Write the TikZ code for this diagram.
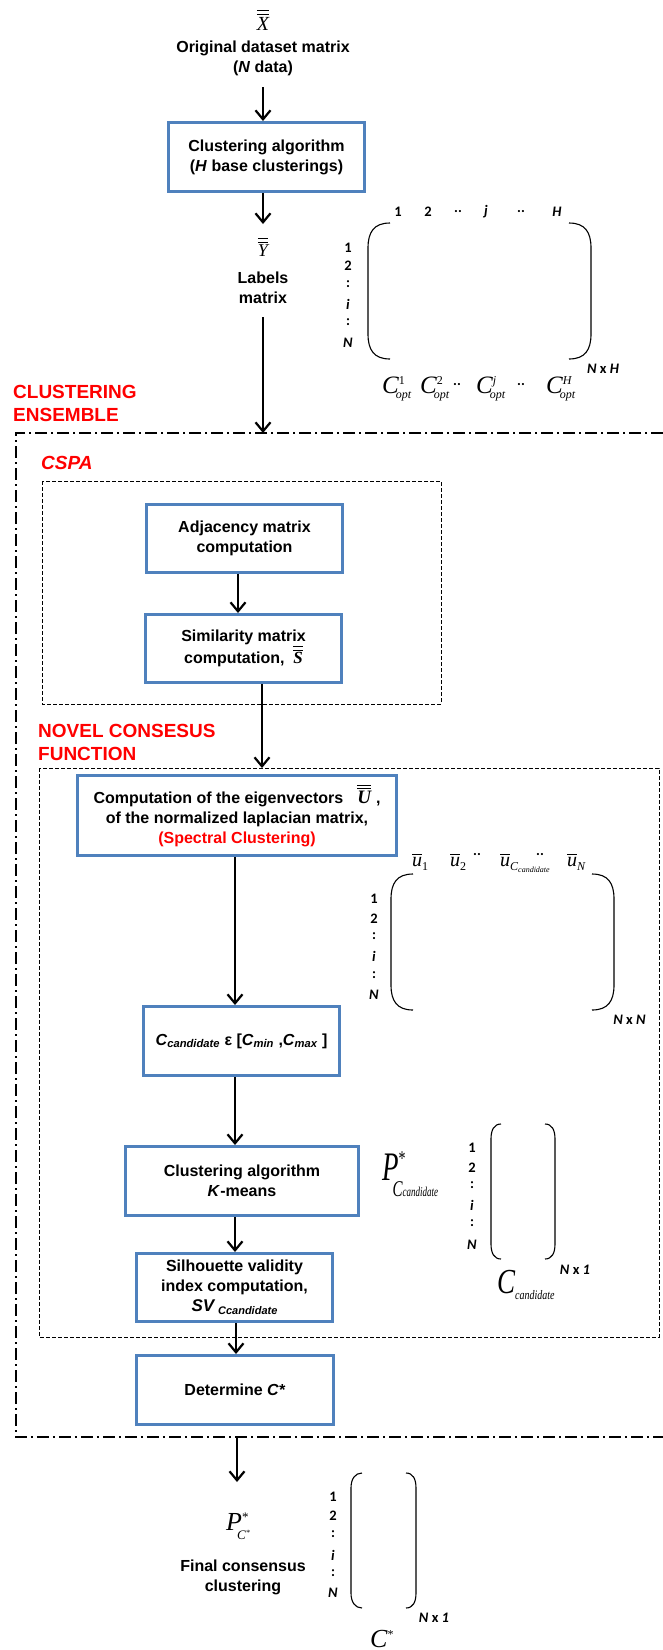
\documentclass[tikz,border=0pt]{standalone}
\usepackage{fontspec}
\usepackage{amsmath}
\usepackage{graphicx}
\setmainfont{Liberation Sans}
\newfontfamily\tnr{Liberation Serif}
\newfontfamily\calfont{Carlito}
\usetikzlibrary{arrows.meta}
\definecolor{boxblue}{RGB}{79,129,189}
\definecolor{lblred}{RGB}{255,0,0}
\newcommand\fs[1]{\fontsize{#1}{#1}\selectfont}
\newcommand\SupSub[4]{\rlap{\raisebox{#1}{#3}}\raisebox{#2}{#4}}
\newcommand\tv[1]{\text{\tnr\itshape #1}}
\newcommand\dbl[2]{{\fs{#1}$\overline{\overline{\tv{#2}}}$}}
\newcommand\ub[1]{{\fs{20}$\overline{\tv{u}}$}\raisebox{-4pt}{\tnr\fs{12}#1}}
\newcommand\Copt[1]{{\tnr\itshape\fs{25}C}\SupSub{9pt}{-5pt}{\tnr\fs{12}#1}{\kern-3pt\tnr\itshape\fs{12}opt}}
\newcommand\dd{\raisebox{1.5pt}{..}}
\begin{document}
\begin{tikzpicture}[x=1pt,y=-1pt,
  txt/.style={inner sep=0pt,align=center,font=\bfseries\fontsize{16}{20}\selectfont},
  bbox/.style={draw=boxblue,line width=3pt,inner sep=0pt,align=center,font=\bfseries\fontsize{16}{20}\selectfont},
  arr/.style={line width=2.2pt,-{Straight Barb[length=9pt,width=15pt]}},
  redlbl/.style={inner sep=0pt,align=left,text=lblred,font=\bfseries\fontsize{19}{23}\selectfont},
  idx/.style={inner sep=0pt,font=\calfont\bfseries\fontsize{14.5}{16}\selectfont},
  mth/.style={inner sep=0pt},
  par/.style={line width=1.1pt},
  dashdot/.style={line width=1.3pt,dash pattern=on 12pt off 4pt on 2pt off 4pt},
  dashbox/.style={line width=1pt,dash pattern=on 4pt off 2pt}]
\useasboundingbox (0,0) rectangle (663,1650);

% ---------- header ----------
\node[mth] (X) at (263,20) {\dbl{20}{X}};
\node[txt] (orig) at (263,58) {Original dataset matrix\\(\textit{N} data)};
\coordinate (a1s) at (263,87);
\node[bbox,minimum width=196pt,minimum height=69pt] (cl1) at (266.5,157) {Clustering algorithm\\(\textit{H} base clusterings)};
\draw[arr] (a1s) -- (a1s |- cl1.north);
\coordinate (a2e) at (263,224);
\draw[arr] (a2e |- cl1.south) -- (a2e);
\node[mth] (Y) at (263,247) {\dbl{18}{Y}};
\node[txt] (lab) at (263,288) {Labels\\matrix};
\coordinate (a3s) at (263,317);
\coordinate (ceTop) at (263,433);
\draw[arr] (a3s) -- (ceTop);

% ---------- matrix 1 ----------
\foreach \mylab/\xx [count=\k] in {1/398,2/428,{\dd}/458,{\textit{j}}/486,{\dd}/521,{\textit{H}}/557}
  \node[idx] (mac\k) at (\xx,212) {\mylab};
\foreach \mylab/\yy [count=\k] in {1/248,2/266,{:}/284,{\textit{i}}/304,{:}/322,{\textit{N}}/343}
  \node[idx] (mar\k) at (348,\yy) {\mylab};
\draw[par] (390,223) .. controls (374,223) and (368,232) .. (368,248) -- (368,334) .. controls (368,350) and (374,359) .. (390,359);
\draw[par] (569,223) .. controls (585,223) and (591,232) .. (591,248) -- (591,334) .. controls (591,350) and (585,359) .. (569,359);
\node[idx] (maNH) at (603,369) {\textit{N} x \textit{H}};
\node[mth,anchor=base west] (co1) at (382,393) {\Copt{1}};
\node[mth,anchor=base west] (co2) at (420,393) {\Copt{2}};
\node[idx] (cod1) at (457,385) {..};
\node[mth,anchor=base west] (coj) at (476,393) {\Copt{\itshape j}};
\node[idx] (cod2) at (521,385) {..};
\node[mth,anchor=base west] (coH) at (546,393) {\Copt{\itshape H}};

% ---------- clustering ensemble ----------
\node[redlbl,anchor=west] (ceLbl) at (13,403.5) {CLUSTERING\\ENSEMBLE};
\draw[dashdot] (663,433) -- (16,433) -- (16,1437) -- (663,1437);

% ---------- CSPA ----------
\node[redlbl,anchor=west,font=\bfseries\itshape\fontsize{19}{23}\selectfont] (cspaLbl) at (41,463) {CSPA};
\draw[dashbox] (42,481) rectangle (441,704);
\node[bbox,minimum width=196pt,minimum height=68pt] (adj) at (244.5,538.5) {Adjacency matrix\\computation};
\node[bbox,minimum width=196pt,minimum height=68pt] (sim) at (243.5,648.5) {Similarity matrix\\computation,\ \ \dbl{17}{S}};
\coordinate (x238) at (238,0);
\draw[arr] (adj.south -| x238) -- (sim.north -| x238);

% ---------- novel consensus function ----------
\node[redlbl,anchor=west] (ncfLbl) at (38,742.5) {NOVEL CONSESUS\\FUNCTION};
\draw[dashbox] (39,768) rectangle (659,1337);
\coordinate (ncfTop) at (262,768);
\draw[arr] (sim.south -| ncfTop) -- (ncfTop);
\node[bbox,minimum width=319pt,minimum height=80pt] (eig) at (237,815.5) {Computation of the eigenvectors\hspace{14pt}\dbl{19}{U}\hspace{5pt},\\of the normalized laplacian matrix,\\\textcolor{lblred}{(Spectral Clustering)}};

% matrix 2
\node[mth,anchor=base west] (u1) at (412,866) {\ub{1}};
\node[mth,anchor=base west] (u2) at (450,866) {\ub{2}};
\node[idx] (ud1) at (477,855) {..};
\node[mth,anchor=base west] (uc) at (500,866) {\ub{\itshape C\raisebox{-2pt}{\fs{8}candidate}}};
\node[idx] (ud2) at (540,855) {..};
\node[mth,anchor=base west] (uN) at (567,866) {\ub{\itshape N}};
\foreach \mylab/\yy [count=\k] in {1/899,2/919,{:}/936,{\textit{i}}/956,{:}/975,{\textit{N}}/995}
  \node[idx] (mbr\k) at (374,\yy) {\mylab};
\draw[par] (413,874) .. controls (397,874) and (391,883) .. (391,899) -- (391,985) .. controls (391,1001) and (397,1010) .. (413,1010);
\draw[par] (592,874) .. controls (608,874) and (614,883) .. (614,899) -- (614,985) .. controls (614,1001) and (608,1010) .. (592,1010);
\node[idx] (mbNN) at (629.5,1020) {\textit{N} x \textit{N}};

\coordinate (x235) at (235,0);
\node[bbox,minimum width=196pt,minimum height=69pt] (ccand) at (241.5,1041) {\textit{C}\textsubscript{\itshape candidate} ε [\textit{C}\textsubscript{\itshape min} ,\textit{C}\textsubscript{\itshape max} ]};
\draw[arr] (eig.south -| x235) -- (ccand.north -| x235);
\node[bbox,minimum width=233pt,minimum height=69pt] (km) at (242,1181) {Clustering algorithm\\\textit{K}-means};
\draw[arr] (ccand.south -| x235) -- (km.north -| x235);
\node[bbox,minimum width=196pt,minimum height=68pt] (sil) at (234.5,1287.5) {Silhouette validity\\index computation,\\{\fs{17}\textit{SV}}\,\raisebox{-3pt}{\fs{11}\textit{Ccandidate}}};
\draw[arr] (km.south -| x235) -- (sil.north -| x235);

% matrix 3
\node[mth,anchor=base west] (Pc) at (382,1180) {\scalebox{1}[1.5]{{\tnr\itshape\fs{27}P}\SupSub{9.5pt}{-11pt}{\tnr\fs{14}*}{\kern-6pt\tnr\itshape\fs{15}C\fs{9}candidate}}};
\foreach \mylab/\yy [count=\k] in {1/1148,2/1168,{:}/1185,{\textit{i}}/1205,{:}/1223,{\textit{N}}/1245}
  \node[idx] (mcr\k) at (472,\yy) {\mylab};
\draw[par] (501,1124) .. controls (494,1124) and (491,1130) .. (491,1139) -- (491,1244) .. controls (491,1253) and (494,1259) .. (501,1259);
\draw[par] (545,1124) .. controls (552,1124) and (555,1130) .. (555,1139) -- (555,1244) .. controls (555,1253) and (552,1259) .. (545,1259);
\node[idx] (mcN1) at (575,1270) {\textit{N} x \textit{1}};
\node[mth,anchor=base west] (Cc) at (497,1293) {\scalebox{1}[1.3]{{\tnr\itshape\fs{27}C}\raisebox{-5pt}{\tnr\itshape\fs{10}candidate}}};

% determine
\coordinate (x236) at (236,0);
\node[bbox,minimum width=197pt,minimum height=69pt] (det) at (235,1390) {Determine \textit{C*}};
\draw[arr] (sil.south -| x236) -- (det.north -| x236);

% ---------- final ----------
\coordinate (ceBot) at (237,1438);
\coordinate (finA) at (237,1482);
\draw[arr] (ceBot) -- (finA);
\node[mth,anchor=base west] (Pf) at (226,1530) {{\tnr\itshape\fs{26}P}\SupSub{9pt}{-9pt}{\tnr\fs{13}*}{\kern-5pt\tnr\itshape\fs{13}C\raisebox{4pt}{\fs{8}*}}};
\node[txt] (fin) at (243,1577) {Final consensus\\clustering};
\foreach \mylab/\yy [count=\k] in {1/1497,2/1516,{:}/1534,{\textit{i}}/1555,{:}/1573,{\textit{N}}/1593}
  \node[idx] (mdr\k) at (333,\yy) {\mylab};
\draw[par] (362,1473) .. controls (355,1473) and (351,1479) .. (351,1488) -- (351,1593) .. controls (351,1602) and (355,1608) .. (362,1608);
\draw[par] (406,1473) .. controls (413,1473) and (416,1479) .. (416,1488) -- (416,1593) .. controls (416,1602) and (413,1608) .. (406,1608);
\node[idx] (mdN1) at (434,1618) {\textit{N} x \textit{1}};
\node[mth,anchor=base west] (Cs) at (370,1647) {{\tnr\itshape\fs{26}C}\raisebox{9pt}{\tnr\fs{12}*}};
\end{tikzpicture}
\end{document}
